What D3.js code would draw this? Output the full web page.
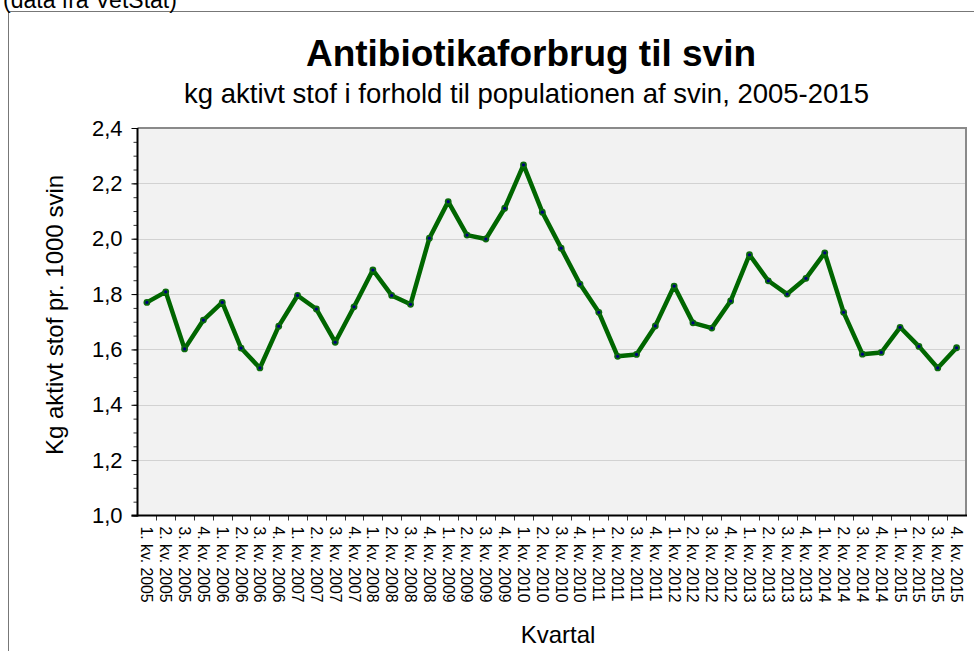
<!DOCTYPE html>
<html>
<head>
<meta charset="utf-8">
<script src="https://cdn.jsdelivr.net/npm/d3@7"></script>
<style>
  body { margin: 0; background: #fff; }
  svg { display: block; font-family: "Liberation Sans", Arial, sans-serif; }
</style>
</head>
<body>
<div id="chart"></div>
<script>
// data
const years = [2005, 2006, 2007, 2008, 2009, 2010, 2011, 2012, 2013, 2014, 2015];
const quarters = years.flatMap(y => [1, 2, 3, 4].map(q => q + ". kv. " + y));
const values = [
  1.770, 1.808, 1.602, 1.706, 1.770, 1.605, 1.533, 1.684, 1.795, 1.746, 1.626, 1.754,
  1.887, 1.795, 1.763, 2.002, 2.134, 2.013, 1.999, 2.110, 2.267, 2.096, 1.966, 1.836,
  1.734, 1.575, 1.582, 1.685, 1.829, 1.696, 1.677, 1.775, 1.942, 1.848, 1.800, 1.857,
  1.949, 1.734, 1.583, 1.589, 1.680, 1.611, 1.533, 1.606
];
const yTicks = [1.0, 1.2, 1.4, 1.6, 1.8, 2.0, 2.2, 2.4];

const width = 974, height = 651;
const margin = {top: 128, right: 8, bottom: 136, left: 137.5};

const svg = d3.select("#chart").append("svg")
  .attr("width", width)
  .attr("height", height);

// outer frame + source note
svg.append("path")
  .attr("d", `M8.5,${height + 5} V11.5 H${width + 5}`)
  .attr("fill", "none")
  .attr("stroke", "#777")
  .attr("stroke-width", 1);

svg.append("text")
  .attr("x", 3)
  .attr("y", 8)
  .attr("font-size", "23px")
  .text("(data fra VetStat)");

// titles
svg.append("text")
  .attr("x", 531)
  .attr("y", 66)
  .attr("text-anchor", "middle")
  .attr("font-size", "37px")
  .attr("font-weight", "bold")
  .text("Antibiotikaforbrug til svin");

svg.append("text")
  .attr("x", 526.5)
  .attr("y", 103)
  .attr("text-anchor", "middle")
  .attr("font-size", "27.5px")
  .text("kg aktivt stof i forhold til populationen af svin, 2005-2015");

const x = d3.scaleBand()
  .domain(quarters)
  .range([margin.left, width - margin.right]);

const y = d3.scaleLinear()
  .domain([1.0, 2.4])
  .range([height - margin.bottom + 0.5, margin.top]);

// plot background
svg.append("rect")
  .attr("x", margin.left)
  .attr("y", margin.top)
  .attr("width", width - margin.right - margin.left)
  .attr("height", y(1.0) - margin.top)
  .attr("fill", "#f2f2f2");

// gridlines
svg.append("g")
  .selectAll("line")
  .data(yTicks.slice(1, -1))
  .join("line")
  .attr("x1", margin.left)
  .attr("x2", width - margin.right)
  .attr("y1", d => Math.round(y(d)) + 0.5)
  .attr("y2", d => Math.round(y(d)) + 0.5)
  .attr("stroke", "#d2d2d2")
  .attr("stroke-width", 1);

// top and right border
svg.append("path")
  .attr("d", `M${margin.left},${margin.top} H${width - margin.right} V${y(1.0)}`)
  .attr("fill", "none")
  .attr("stroke", "#8a8a8a")
  .attr("stroke-width", 2);

// y axis
const yAxis = svg.append("g")
  .attr("transform", `translate(${margin.left},0)`);

yAxis.append("g")
  .call(d3.axisLeft(y).tickValues(d3.range(0, 29).map(i => 1.0 + i * 0.05)).tickSize(4).tickFormat(""))
  .call(g => g.select(".domain").remove())
  .call(g => g.selectAll("line").attr("stroke", "#333"));

yAxis.append("g")
  .call(d3.axisLeft(y).tickValues(yTicks).tickSize(6).tickPadding(9)
    .tickFormat(d => d3.format(".1f")(d).replace(".", ",")))
  .call(g => g.select(".domain").remove())
  .call(g => g.selectAll("line").attr("stroke", "#000"))
  .call(g => g.selectAll("text").attr("font-size", "22px").attr("fill", "#000")
    .attr("font-family", "Liberation Sans, Arial, sans-serif"));

yAxis.append("line")
  .attr("x1", 0).attr("x2", 0)
  .attr("y1", margin.top).attr("y2", y(1.0) + 1)
  .attr("stroke", "#000")
  .attr("stroke-width", 2);

// x axis
const xAxis = svg.append("g")
  .attr("transform", `translate(0,${y(1.0)})`);

xAxis.selectAll("line.tick")
  .data(quarters.slice(1))
  .join("line")
  .attr("class", "tick")
  .attr("x1", d => Math.round(x(d)) + 0.5)
  .attr("x2", d => Math.round(x(d)) + 0.5)
  .attr("y1", 0)
  .attr("y2", 5)
  .attr("stroke", "#333");

xAxis.append("line")
  .attr("x1", margin.left - 6)
  .attr("x2", width - margin.right + 1)
  .attr("y1", 0).attr("y2", 0)
  .attr("stroke", "#000")
  .attr("stroke-width", 2);

xAxis.selectAll("text")
  .data(quarters)
  .join("text")
  .attr("transform", d => `translate(${x(d) + x.bandwidth() / 2},11) rotate(90)`)
  .attr("dy", "0.35em")
  .attr("font-size", "15.8px")
  .text(d => d);

// axis titles
svg.append("text")
  .attr("transform", `translate(63,${315}) rotate(-90)`)
  .attr("text-anchor", "middle")
  .attr("font-size", "24px")
  .text("Kg aktivt stof pr. 1000 svin");

svg.append("text")
  .attr("x", 558)
  .attr("y", 643)
  .attr("text-anchor", "middle")
  .attr("font-size", "24px")
  .text("Kvartal");

// line + markers
const line = d3.line()
  .x((d, i) => x(quarters[i]) + x.bandwidth() / 2)
  .y(d => y(d));

svg.append("path")
  .datum(values)
  .attr("d", line)
  .attr("fill", "none")
  .attr("stroke", "#006600")
  .attr("stroke-width", 4.5)
  .attr("stroke-linejoin", "round");

const pts = svg.append("g")
  .selectAll("g")
  .data(values)
  .join("g")
  .attr("transform", (d, i) => `translate(${x(quarters[i]) + x.bandwidth() / 2},${y(d)})`);

pts.append("circle")
  .attr("r", 3.4)
  .attr("fill", "#0b6a0b");

pts.append("circle")
  .attr("r", 1.6)
  .attr("fill", "#000080");
</script>
</body>
</html>
